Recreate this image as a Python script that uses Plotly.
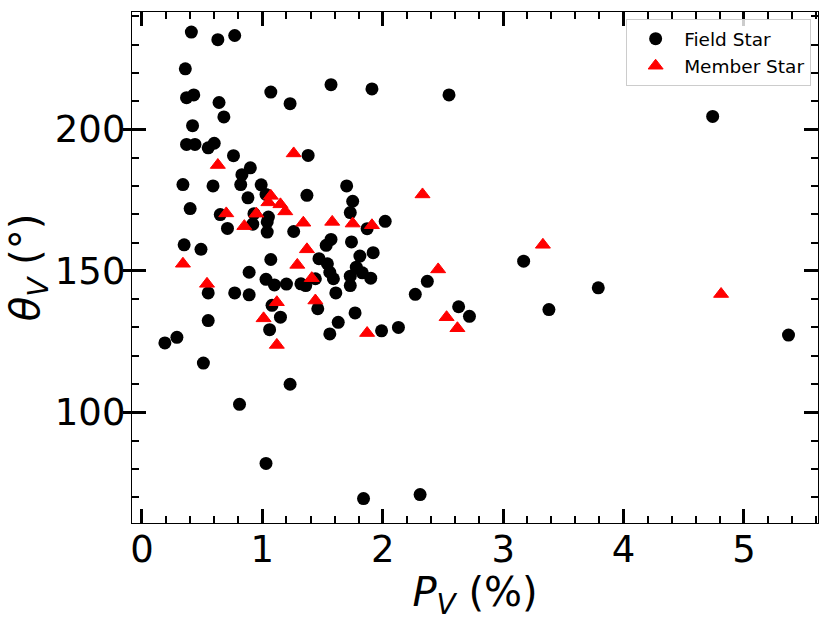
import plotly.graph_objects as go

# field stars: polarization fraction P_V (%) and angle theta_V (deg)
field_p = [0.41, 0.63, 0.77, 0.36, 0.37, 0.43, 0.64, 0.68, 0.42, 1.07, 1.23, 1.57, 1.91, 2.55, 4.74,
           0.37, 0.44, 0.55, 0.60, 0.76, 1.38, 0.90, 0.83, 0.82, 0.34, 0.59, 0.99, 0.40, 0.88, 1.03, 1.37,
           0.65, 0.71, 0.93, 0.92, 1.05, 1.04, 1.04, 1.26, 0.35, 0.49, 1.07, 0.89, 1.03, 1.10, 1.20, 1.32,
           1.36, 1.44, 0.55, 0.77, 0.89, 0.55, 1.08, 1.15, 1.06, 1.46, 1.70, 1.75, 1.73, 2.02, 1.87, 1.53,
           1.57, 1.74, 1.92, 1.81, 1.47, 1.54, 1.56, 1.59, 1.78, 1.83, 1.90, 1.73, 1.73, 1.61, 1.77, 1.63,
           1.56, 1.99, 2.13, 2.27, 2.37, 2.63, 2.72, 3.17, 3.38, 3.79, 5.37, 0.19, 0.29, 0.51, 1.23, 0.81,
           1.03, 1.84, 2.31]
field_theta = [234.4, 231.7, 233.2, 221.4, 211.2, 212.2, 209.5, 204.4, 201.3, 213.2, 209.1, 215.8, 214.3, 212.2, 204.6,
               194.7, 194.7, 193.5, 195.1, 190.7, 190.8, 186.4, 184.0, 180.5, 180.5, 180.0, 180.4, 172.0, 175.8, 177.0, 176.7,
               169.9, 165.0, 170.2, 166.5, 169.0, 167.3, 163.7, 163.9, 159.2, 157.6, 154.0, 149.5, 147.0, 145.0, 145.3, 145.4,
               144.8, 147.2, 142.2, 142.2, 141.5, 132.4, 137.8, 133.6, 129.2, 136.6, 180.0, 174.6, 170.6, 167.5, 164.9, 159.0,
               161.1, 160.2, 156.4, 155.2, 154.3, 152.5, 149.5, 147.2, 151.3, 149.3, 147.4, 148.1, 144.8, 142.2, 135.1, 131.8,
               127.7, 128.8, 130.0, 141.7, 146.3, 137.3, 133.9, 153.4, 136.3, 144.0, 127.3, 124.5, 126.5, 117.4, 109.9, 102.8,
               81.9, 69.5, 70.9]

# member stars
member_p = [0.63, 1.26, 1.07, 1.05, 1.15, 1.19, 0.70, 0.95, 0.85, 1.34, 1.58, 1.75, 1.91, 2.33, 0.34,
            0.54, 1.37, 1.29, 1.41, 1.44, 1.12, 1.01, 1.12, 1.87, 3.33, 2.46, 2.53, 2.62, 4.81]
member_theta = [187.4, 191.5, 176.5, 174.2, 173.5, 171.0, 170.3, 170.2, 165.8, 167.0, 167.3, 166.7, 166.1, 177.0, 152.5,
                145.4, 157.6, 152.1, 147.4, 139.5, 138.9, 133.2, 123.8, 128.0, 159.2, 150.5, 133.6, 129.7, 141.8]

x_range = [-0.083, 5.615]
y_range = [60.85, 241.5]

FONT = "DejaVu Sans"

fig = go.Figure()
fig.add_trace(go.Scatter(
    x=field_p, y=field_theta, mode="markers", name="Field Star",
    marker=dict(symbol="circle", size=13, color="black"),
))
fig.add_trace(go.Scatter(
    x=member_p, y=member_theta, mode="markers", name="Member Star",
    marker=dict(symbol="triangle-up", size=13, color="red",
                line=dict(color="red", width=1)),
))
# empty trace so the extra left axis (outer part of the major ticks) is drawn
fig.add_trace(go.Scatter(x=[], y=[], yaxis="y2", showlegend=False, hoverinfo="skip"))

fig.update_layout(
    width=831, height=621,
    margin=dict(l=132, r=13, t=12, b=98),
    paper_bgcolor="white", plot_bgcolor="white",
    font=dict(family=FONT, color="black"),
    showlegend=True,
    legend=dict(
        x=0.99, y=0.986, xanchor="right", yanchor="top",
        bgcolor="rgba(255,255,255,0.8)", bordercolor="#cccccc", borderwidth=1,
        font=dict(family=FONT, size=18.5, color="black"),
        tracegroupgap=0, itemwidth=47,
    ),
    xaxis=dict(
        range=x_range, tickmode="linear", tick0=0, dtick=1, automargin=False,
        ticks="inside", ticklen=14, tickwidth=2.7, tickcolor="black",
        minor=dict(dtick=0.2, tick0=0, ticks="inside", ticklen=7, tickwidth=2, tickcolor="black"),
        showline=True, linecolor="black", linewidth=1.3, mirror="ticks",
        showgrid=False, zeroline=False,
        tickfont=dict(family=FONT, size=37), ticklabelstandoff=-7,
        title=dict(text="<i>P<sub>V</sub></i> (%)", font=dict(family=FONT, size=40), standoff=2),
    ),
    yaxis=dict(
        range=y_range, tickmode="linear", tick0=100, dtick=50, automargin=False,
        ticks="inside", ticklen=14, tickwidth=2.7, tickcolor="black",
        minor=dict(dtick=10, tick0=0, ticks="inside", ticklen=7, tickwidth=2, tickcolor="black"),
        showline=True, linecolor="black", linewidth=1.3, mirror="ticks",
        showgrid=False, zeroline=False,
        tickfont=dict(family=FONT, size=37), ticklabelstandoff=-2,
        title=dict(text="<i>θ<sub>V</sub></i> (°)", font=dict(family=FONT, size=40), standoff=2),
    ),
    yaxis2=dict(
        range=y_range, overlaying="y", side="left", tickmode="linear", tick0=100, dtick=50,
        ticks="outside", ticklen=8, tickwidth=2.7, tickcolor="black", automargin=False,
        showticklabels=False, showline=False, showgrid=False, zeroline=False,
    ),
)

# drop the browser's default body margin so the figure sits at the page corner
fig.write_html("out.html", config={"displayModeBar": False},
               post_script="document.body.style.margin='0';")
